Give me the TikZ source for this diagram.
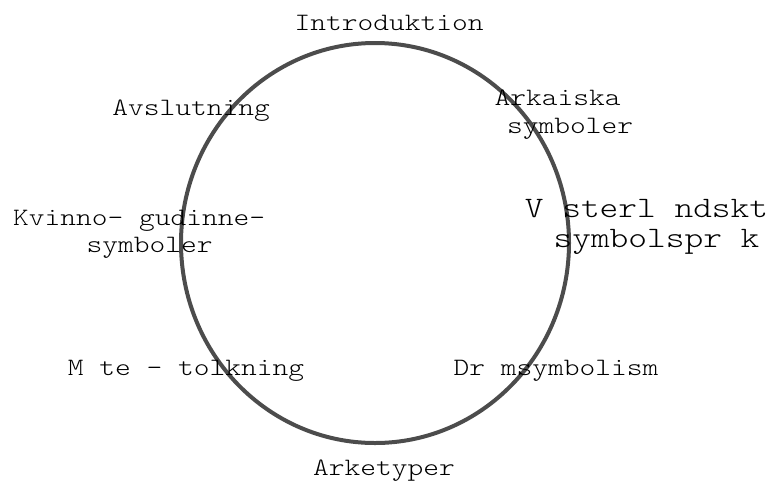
\documentclass[tikz,border=0pt]{standalone}
\usepackage{fontspec}
\newfontfamily\cour{lmmonolt10-regular.otf}[FakeStretch=1.2]
\begin{document}
\begin{tikzpicture}[x=1pt,y=-1pt,
  lbl/.style={anchor=base,inner sep=0pt,font=\cour\fontsize{25}{28}\selectfont},
  biglbl/.style={anchor=base,inner sep=0pt,font=\cour\fontsize{29.7}{33}\selectfont},
  ring/.style={draw=black!70,line width=4pt}]
\useasboundingbox (0,0) rectangle (773,483);
\draw[ring] (375,243) ellipse [x radius=194pt, y radius=200pt];
\node[lbl] (intro) at (389,30) {Introduktion};
\node[lbl] (ark1) at (557.5,105) {Arkaiska};
\node[lbl] (ark2) at (570,133) {symboler};
\node[biglbl] (vast1) at (646.5,217) {V sterl ndskt};
\node[biglbl] (vast2) at (656.5,247) {symbolspr k};
\node[lbl] (kv1) at (139,225) {Kvinno- gudinne-};
\node[lbl] (kv2) at (149.5,252) {symboler};
\node[lbl] (mote) at (186,375) {M te - tolkning};
\node[lbl] (drom) at (556,375) {Dr msymbolism};
\node[lbl] (arke) at (384,475) {Arketyper};
\node[lbl] (avsl) at (191,115) {Avslutning};
\end{tikzpicture}
\end{document}
